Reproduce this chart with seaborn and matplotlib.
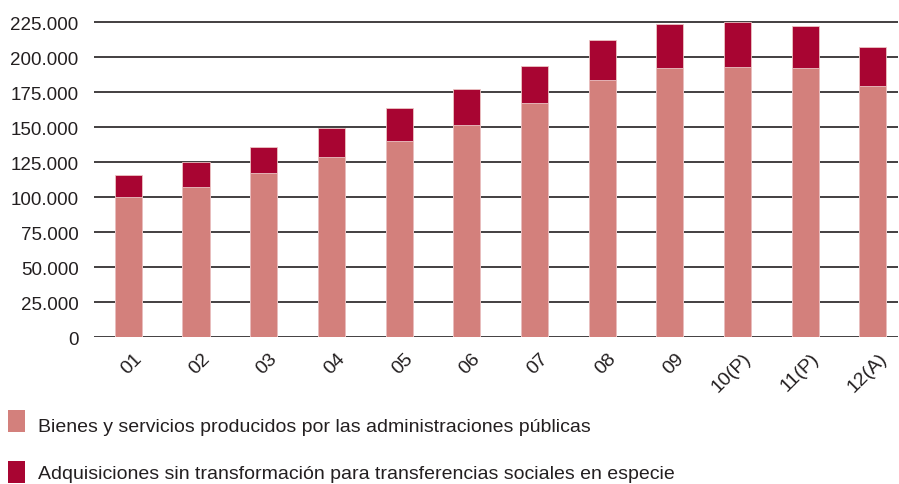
import matplotlib
matplotlib.use("Agg")
import matplotlib.pyplot as plt
import matplotlib.transforms as mtransforms
import seaborn as sns
import pandas as pd
from matplotlib.patches import Rectangle
from matplotlib.ticker import FuncFormatter, MultipleLocator

categories = ["01", "02", "03", "04", "05", "06", "07", "08", "09", "10(P)", "11(P)", "12(A)"]
bienes = [99800, 107400, 117400, 128300, 140200, 151200, 167400, 183800, 192100, 193300, 191900, 179500]
adquisiciones = [16100, 17400, 18300, 21200, 23400, 25900, 26000, 28600, 31700, 31500, 30500, 28100]
series_names = ["Bienes y servicios producidos por las administraciones públicas",
                "Adquisiciones sin transformación para transferencias sociales en especie"]

c_base = "#D3807C"
c_top = "#A80532"

sns.set_theme(style="white")
plt.rcParams["font.family"] = ["Liberation Sans", "DejaVu Sans"]

df = pd.DataFrame({"cat": categories, "base": bienes,
                   "total": [b + a for b, a in zip(bienes, adquisiciones)]})

fig = plt.figure(figsize=(8.99, 4.85), dpi=100)
ax = fig.add_axes([94/899, 0.303, 1 - 95/899, 0.958 - 0.303])

sns.barplot(data=df, x="cat", y="total", color=c_top, saturation=1, width=0.4,
            edgecolor="#EBC4C4", linewidth=0.6, ax=ax, zorder=3)
sns.barplot(data=df, x="cat", y="base", color=c_base, saturation=1, width=0.4,
            edgecolor="#EBC4C4", linewidth=0.6, ax=ax, zorder=3)

ax.set_xlim(-0.507, 11.37)
ax.set_ylim(0, 227000)
ax.yaxis.set_major_locator(MultipleLocator(25000))
ax.yaxis.set_major_formatter(FuncFormatter(lambda v, p: f"{int(v):,}".replace(",", ".")))
ax.grid(axis="y", color="#231F20", linewidth=1.2, zorder=0)
ax.grid(axis="x", visible=False)
ax.set_axisbelow(True)
for s in ax.spines.values():
    s.set_visible(False)
ax.set_xlabel("")
ax.set_ylabel("")
ax.tick_params(axis="y", length=0, pad=11, labelsize=13.5, labelcolor="#231F20")
ax.tick_params(axis="x", length=0, pad=9, labelsize=14, labelcolor="#231F20")
offset = mtransforms.ScaledTranslation(5/100, 0, fig.dpi_scale_trans)
for lab in ax.get_xticklabels():
    lab.set_rotation(45)
    lab.set_ha("right")
    lab.set_rotation_mode("anchor")
    lab.set_transform(lab.get_transform() + offset)

# legend
for i, (name, col) in enumerate(zip(series_names, [c_base, c_top])):
    y0 = 485 - (433 if i == 0 else 484)
    fig.patches.append(Rectangle((8/899, y0/485), 17/899, 22/485, transform=fig.transFigure,
                                 facecolor=col, edgecolor="none"))
    fig.text(38/899, 1 - (428 if i == 0 else 475)/485, name, fontsize=14,
             color="#231F20", va="center", ha="left")

fig.savefig("out.png", dpi=100)
